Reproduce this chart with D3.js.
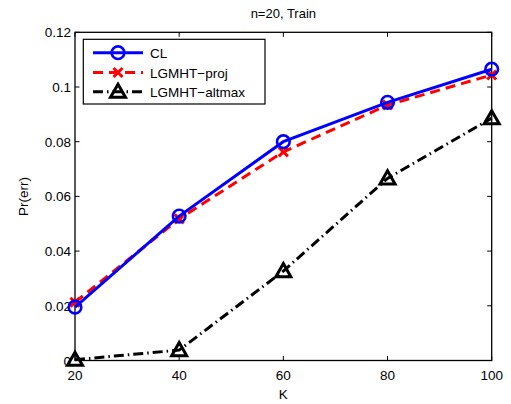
<!DOCTYPE html>
<html>
<head>
<meta charset="utf-8">
<script src="https://cdn.jsdelivr.net/npm/d3@7"></script>
<style>
  html, body { margin: 0; padding: 0; background: #fff; }
  svg text { font-family: "Liberation Sans", Arial, Helvetica, sans-serif; }
</style>
</head>
<body>
<svg id="chart" width="511" height="404"></svg>
<script>
// Error probability vs. K for three methods (n=20, training set)
const kValues = [20, 40, 60, 80, 100];
const clErr = [0.0195, 0.0528, 0.0800, 0.0944, 0.1065];
const projErr = [0.0213, 0.0518, 0.0763, 0.0934, 0.1044];
const altmaxErr = [0.0003, 0.0038, 0.0327, 0.0666, 0.0886];
const seriesNames = ["CL", "LGMHT\u2212proj", "LGMHT\u2212altmax"];
const xTicks = [20, 40, 60, 80, 100];
const yTicks = [0, 0.02, 0.04, 0.06, 0.08, 0.1, 0.12];
const yTickLabels = ["0", "0.02", "0.04", "0.06", "0.08", "0.1", "0.12"];

const svg = d3.select("#chart");
const plotL = 75, plotR = 491.7, plotT = 32.3, plotB = 360.5;

const x = d3.scaleLinear().domain([20, 100]).range([plotL, plotR]);
const y = d3.scaleLinear().domain([0, 0.12]).range([plotB, plotT]);

// axes box
svg.append("rect")
  .attr("x", plotL).attr("y", plotT)
  .attr("width", plotR - plotL).attr("height", plotB - plotT)
  .attr("fill", "none").attr("stroke", "#000").attr("stroke-width", 1.3);

const tickLen = 4.5;
const fontSize = 13.5;

// x axis ticks (bottom + top, pointing inward)
const gx = svg.append("g");
xTicks.forEach(t => {
  gx.append("line").attr("x1", x(t)).attr("x2", x(t))
    .attr("y1", plotB).attr("y2", plotB - tickLen).attr("stroke", "#000");
  gx.append("line").attr("x1", x(t)).attr("x2", x(t))
    .attr("y1", plotT).attr("y2", plotT + tickLen).attr("stroke", "#000");
  gx.append("text").attr("x", x(t)).attr("y", plotB + 19)
    .attr("text-anchor", "middle").attr("font-size", fontSize).text(t);
});

// y axis ticks (left + right)
const gy = svg.append("g");
yTicks.forEach((t, i) => {
  gy.append("line").attr("x1", plotL).attr("x2", plotL + tickLen)
    .attr("y1", y(t)).attr("y2", y(t)).attr("stroke", "#000");
  gy.append("line").attr("x1", plotR).attr("x2", plotR - tickLen)
    .attr("y1", y(t)).attr("y2", y(t)).attr("stroke", "#000");
  gy.append("text").attr("x", plotL - 4).attr("y", y(t) + 5)
    .attr("text-anchor", "end").attr("font-size", fontSize).text(yTickLabels[i]);
});

// title and axis labels
svg.append("text").attr("x", (plotL + plotR) / 2).attr("y", 18)
  .attr("text-anchor", "middle").attr("font-size", 13).text("n=20, Train");
svg.append("text").attr("x", (plotL + plotR) / 2).attr("y", 399)
  .attr("text-anchor", "middle").attr("font-size", 13.5).text("K");
svg.append("text")
  .attr("transform", `translate(28,${(plotT + plotB) / 2}) rotate(-90)`)
  .attr("text-anchor", "middle").attr("font-size", 13.5).text("Pr(err)");

const line = d3.line().x(d => x(d[0])).y(d => y(d[1]));

const series = [
  { name: seriesNames[0], values: clErr, color: "#0000ff", dash: null, marker: "circle" },
  { name: seriesNames[1], values: projErr, color: "#ff0000", dash: "10,6", marker: "cross" },
  { name: seriesNames[2], values: altmaxErr, color: "#000000", dash: "10,4,1.5,4", marker: "triangle" }
];

function drawMarker(g, type, cx, cy, color) {
  if (type === "circle") {
    g.append("circle").attr("cx", cx).attr("cy", cy).attr("r", 6.3)
      .attr("fill", "none").attr("stroke", color).attr("stroke-width", 2.6);
  } else if (type === "cross") {
    const s = 4.5;
    g.append("path")
      .attr("d", `M${cx - s},${cy - s}L${cx + s},${cy + s}M${cx - s},${cy + s}L${cx + s},${cy - s}`)
      .attr("stroke", color).attr("stroke-width", 3).attr("fill", "none");
  } else {
    const w = 7.5, h = 7.5;
    g.append("path")
      .attr("d", `M${cx},${cy - h}L${cx + w},${cy + h * 0.75}L${cx - w},${cy + h * 0.75}Z`)
      .attr("stroke", color).attr("stroke-width", 3).attr("fill", "none")
      .attr("stroke-linejoin", "miter");
  }
}

// draw series: altmax first so CL sits on top
[series[2], series[1], series[0]].forEach(s => {
  const pts = kValues.map((k, i) => [k, s.values[i]]);
  const g = svg.append("g");
  g.append("path").datum(pts).attr("d", line)
    .attr("fill", "none").attr("stroke", s.color).attr("stroke-width", 3)
    .attr("stroke-dasharray", s.dash);
  pts.forEach(p => drawMarker(g, s.marker, x(p[0]), y(p[1]), s.color));
});

// legend
const lg = svg.append("g");
lg.append("rect").attr("x", 83.3).attr("y", 39.3).attr("width", 181.7).attr("height", 64.7)
  .attr("fill", "#fff").attr("stroke", "#000").attr("stroke-width", 1.2);
const rowY = [52.7, 72.5, 91.7];
series.forEach((s, i) => {
  lg.append("line").attr("x1", 93).attr("x2", 143).attr("y1", rowY[i]).attr("y2", rowY[i])
    .attr("stroke", s.color).attr("stroke-width", 3).attr("stroke-dasharray", s.dash);
  drawMarker(lg, s.marker, 118, rowY[i], s.color);
  lg.append("text").attr("x", 150).attr("y", rowY[i] + 5)
    .attr("font-size", 13.5).text(s.name);
});
</script>
</body>
</html>
